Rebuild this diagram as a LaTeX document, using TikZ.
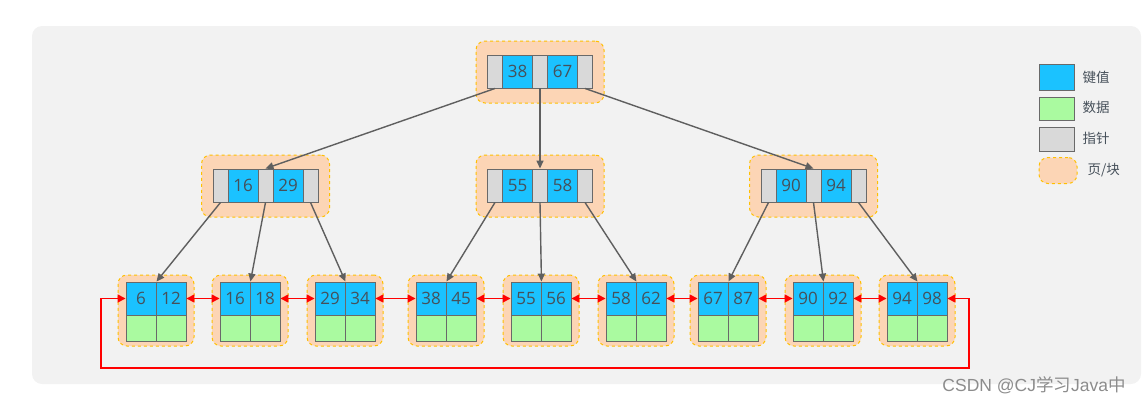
\documentclass[tikz,border=0pt]{standalone}
\usepackage{fontspec}
\setmainfont{Open Sans}
\newfontfamily\cjk{Noto Sans CJK SC}
\newfontfamily\marksans{Liberation Sans}
\usetikzlibrary{arrows.meta}

\definecolor{bgcanvas}{RGB}{242,242,242}
\definecolor{keyblue}{RGB}{27,194,255}
\definecolor{datagreen}{RGB}{170,250,160}
\definecolor{ptrgray}{RGB}{217,217,217}
\definecolor{pagefill}{RGB}{252,213,181}
\definecolor{pageline}{RGB}{255,192,0}
\definecolor{cellline}{RGB}{105,105,105}
\definecolor{numtext}{RGB}{70,80,90}
\definecolor{arrowgray}{RGB}{95,95,95}
\definecolor{marktext}{RGB}{140,140,140}

\tikzset{
  cell/.style={draw=cellline, line width=0.9pt, inner sep=0pt, minimum height=33pt,
    text=numtext, font=\fontsize{17}{17}\selectfont},
  keybox/.style={cell, fill=keyblue, minimum width=30pt},
  ptrbox/.style={cell, fill=ptrgray, minimum width=15pt},
  databox/.style={cell, fill=datagreen, minimum width=30pt, minimum height=26pt},
  pagebox/.style={fill=pagefill, draw=pageline, dashed, line width=1pt, rounded corners=9pt},
  innerpage/.style={pagebox, minimum width=128pt, minimum height=62pt},
  leafpage/.style={pagebox, minimum width=76pt, minimum height=71pt},
  tree/.style={draw=arrowgray, line width=1.4pt, -{Triangle[length=8pt,width=7pt]}},
  link/.style={draw=red, line width=1.6pt, {Triangle[length=8pt,width=8pt]}-{Triangle[length=8pt,width=8pt]}},
  legendtext/.style={text=numtext, font=\cjk\fontsize{13.5}{13.5}\selectfont}
}

\begin{document}
\begin{tikzpicture}[x=1pt, y=-1pt]
  \useasboundingbox (0,0) rectangle (1144,405);
  \fill[bgcanvas, rounded corners=10pt] (32,26) rectangle (1141,384);

  % Pages (blocks)
  \node[innerpage] (tp) at (540,72) {};
  \node[innerpage] (lp) at (265.5,186) {};
  \node[innerpage] (mp) at (540,186) {};
  \node[innerpage] (rp) at (813.5,186) {};

  \node[leafpage] (s1) at (156,310.5) {};
  \node[leafpage] (s2) at (250,310.5) {};
  \node[leafpage] (s3) at (345,310.5) {};
  \node[leafpage] (s4) at (446,310.5) {};
  \node[leafpage] (s5) at (541,310.5) {};
  \node[leafpage] (s6) at (636,310.5) {};
  \node[leafpage] (s7) at (728,310.5) {};
  \node[leafpage] (s8) at (823,310.5) {};
  \node[leafpage] (s9) at (917,310.5) {};

  % Root
  \node[ptrbox] (t-p1) at (495,71.5) {};
  \node[keybox] (t-k1) at (517.5,71.5) {38};
  \node[ptrbox] (t-p2) at (540,71.5) {};
  \node[keybox] (t-k2) at (562.5,71.5) {67};
  \node[ptrbox] (t-p3) at (585,71.5) {};

  % Second level
  \node[ptrbox] (l-p1) at (220.5,185.5) {};
  \node[keybox] (l-k1) at (243,185.5) {16};
  \node[ptrbox] (l-p2) at (265.5,185.5) {};
  \node[keybox] (l-k2) at (288,185.5) {29};
  \node[ptrbox] (l-p3) at (310.5,185.5) {};

  \node[ptrbox] (m-p1) at (495,185.5) {};
  \node[keybox] (m-k1) at (517.5,185.5) {55};
  \node[ptrbox] (m-p2) at (540,185.5) {};
  \node[keybox] (m-k2) at (562.5,185.5) {58};
  \node[ptrbox] (m-p3) at (585,185.5) {};

  \node[ptrbox] (r-p1) at (768.5,185.5) {};
  \node[keybox] (r-k1) at (791,185.5) {90};
  \node[ptrbox] (r-p2) at (813.5,185.5) {};
  \node[keybox] (r-k2) at (836,185.5) {94};
  \node[ptrbox] (r-p3) at (858.5,185.5) {};

  % Leaves: keys
  \node[keybox] (k1a) at (141,298.5) {6};   \node[keybox] (k1b) at (171,298.5) {12};
  \node[keybox] (k2a) at (235,298.5) {16};  \node[keybox] (k2b) at (265,298.5) {18};
  \node[keybox] (k3a) at (330,298.5) {29};  \node[keybox] (k3b) at (360,298.5) {34};
  \node[keybox] (k4a) at (431,298.5) {38};  \node[keybox] (k4b) at (461,298.5) {45};
  \node[keybox] (k5a) at (526,298.5) {55};  \node[keybox] (k5b) at (556,298.5) {56};
  \node[keybox] (k6a) at (621,298.5) {58};  \node[keybox] (k6b) at (651,298.5) {62};
  \node[keybox] (k7a) at (713,298.5) {67};  \node[keybox] (k7b) at (743,298.5) {87};
  \node[keybox] (k8a) at (808,298.5) {90};  \node[keybox] (k8b) at (838,298.5) {92};
  \node[keybox] (k9a) at (902,298.5) {94};  \node[keybox] (k9b) at (932,298.5) {98};

  % Leaves: data
  \node[databox] (d1a) at (141,328) {};  \node[databox] (d1b) at (171,328) {};
  \node[databox] (d2a) at (235,328) {};  \node[databox] (d2b) at (265,328) {};
  \node[databox] (d3a) at (330,328) {};  \node[databox] (d3b) at (360,328) {};
  \node[databox] (d4a) at (431,328) {};  \node[databox] (d4b) at (461,328) {};
  \node[databox] (d5a) at (526,328) {};  \node[databox] (d5b) at (556,328) {};
  \node[databox] (d6a) at (621,328) {};  \node[databox] (d6b) at (651,328) {};
  \node[databox] (d7a) at (713,328) {};  \node[databox] (d7b) at (743,328) {};
  \node[databox] (d8a) at (808,328) {};  \node[databox] (d8b) at (838,328) {};
  \node[databox] (d9a) at (902,328) {};  \node[databox] (d9b) at (932,328) {};

  % Tree arrows
  \draw[tree] (t-p1.south) -- (l-p2.north);
  \draw[tree] (t-p2.south) -- (m-p2.north);
  \draw[tree] (t-p3.south) -- (r-p2.north);

  \draw[tree] (l-p1.south) -- (k1a.north east);
  \draw[tree] (l-p2.south) -- (k2a.north east);
  \draw[tree] (l-p3.south) -- (k3a.north east);
  \draw[tree] (m-p1.south) -- (k4a.north east);
  \draw[tree] (m-p2.south) -- (k5a.north east);
  \draw[tree] (m-p3.south) -- (k6a.north east);
  \draw[tree] (r-p1.south) -- (k7a.north east);
  \draw[tree] (r-p2.south) -- (k8a.north east);
  \draw[tree] (r-p3.south) -- (k9a.north east);

  % Leaf links
  \draw[link] (k1b.east) -- (k2a.west);
  \draw[link] (k2b.east) -- (k3a.west);
  \draw[link] (k3b.east) -- (k4a.west);
  \draw[link] (k4b.east) -- (k5a.west);
  \draw[link] (k5b.east) -- (k6a.west);
  \draw[link] (k6b.east) -- (k7a.west);
  \draw[link] (k7b.east) -- (k8a.west);
  \draw[link] (k8b.east) -- (k9a.west);

  \coordinate (loopR) at (969,368);
  \coordinate (loopL) at (101,368);
  \draw[link] (k9b.east) -| (loopR) -- (loopL) |- (k1a.west);

  % Legend
  \node[keybox, minimum width=35pt, minimum height=26pt] (lg-key) at (1057,77) {};
  \node[databox, minimum width=35pt, minimum height=23pt] (lg-data) at (1057,108.5) {};
  \node[ptrbox, minimum width=35pt, minimum height=24pt] (lg-ptr) at (1057,139.5) {};
  \node[pagebox, minimum width=38pt, minimum height=26pt] (lg-page) at (1058,170.5) {};

  \node[legendtext, right] at (1079,77) {键值};
  \node[legendtext, right] at (1079,107) {数据};
  \node[legendtext, right] at (1079,138) {指针};
  \node[legendtext, right] at (1084,170) {页/块};

  % Watermark
  \node[text=marktext, font=\marksans\fontsize{17.5}{17.5}\selectfont] (mark) at (1034,385)
    {CSDN @CJ{\cjk 学习}Java{\cjk 中}};
\end{tikzpicture}
\end{document}
